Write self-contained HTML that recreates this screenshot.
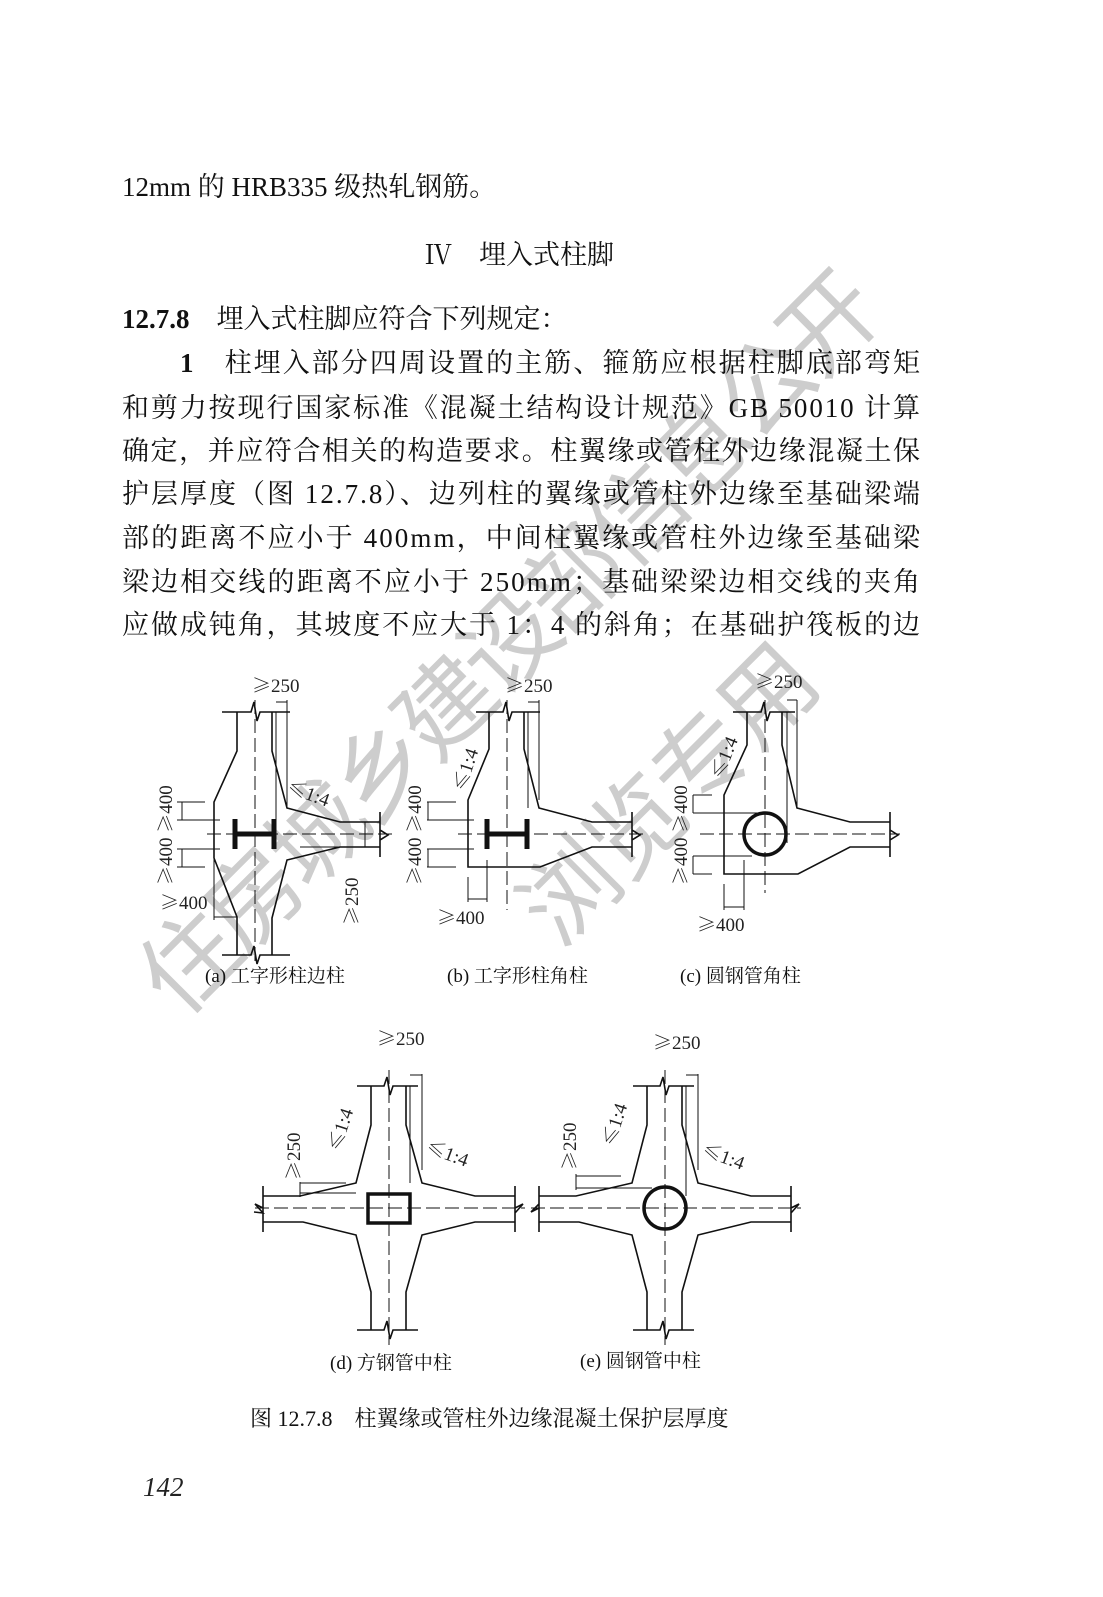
<!DOCTYPE html>
<html><head><meta charset="utf-8"><style>
html,body{margin:0;padding:0;background:#fff}
svg{display:block}
.b{font-family:"Liberation Serif","Noto Serif CJK SC",serif;font-size:27px;fill:#111}
.d{font-family:"Liberation Serif",serif;font-size:19px;fill:#222}
.g{font-family:"Noto Serif CJK SC",serif}
.c{font-family:"Liberation Serif","Noto Serif CJK SC",serif;font-size:19px;fill:#111}
.wm{font-family:"Noto Sans CJK SC",sans-serif;font-size:96px;fill:#cdcdcd;stroke:none}
</style></head><body>
<svg width="1103" height="1597" viewBox="0 0 1103 1597" xmlns="http://www.w3.org/2000/svg">
<rect width="1103" height="1597" fill="#fff"/>
<!-- watermark -->
<text class="wm" transform="translate(180,1020) rotate(-45)" textLength="1000" lengthAdjust="spacing">住房城乡建设部信息公开</text>
<text class="wm" transform="translate(560,950) rotate(-45)" textLength="375" lengthAdjust="spacing">浏览专用</text>
<!-- body text -->
<text class="b" x="122" y="196">12mm 的 HRB335 级热轧钢筋。</text>
<text class="b" x="425" y="264">Ⅳ　埋入式柱脚</text>
<text class="b" x="122" y="328"><tspan font-weight="bold">12.7.8</tspan>　埋入式柱脚应符合下列规定：</text>
<text class="b" x="180" y="372" textLength="740" lengthAdjust="spacing"><tspan font-weight="bold">1</tspan>　柱埋入部分四周设置的主筋、箍筋应根据柱脚底部弯矩</text>
<text class="b" x="122" y="417" textLength="798" lengthAdjust="spacing">和剪力按现行国家标准《混凝土结构设计规范》GB 50010 计算</text>
<text class="b" x="122" y="460" textLength="798" lengthAdjust="spacing">确定，并应符合相关的构造要求。柱翼缘或管柱外边缘混凝土保</text>
<text class="b" x="122" y="503" textLength="798" lengthAdjust="spacing">护层厚度（图 12.7.8）、边列柱的翼缘或管柱外边缘至基础梁端</text>
<text class="b" x="122" y="547" textLength="798" lengthAdjust="spacing">部的距离不应小于 400mm，中间柱翼缘或管柱外边缘至基础梁</text>
<text class="b" x="122" y="591" textLength="798" lengthAdjust="spacing">梁边相交线的距离不应小于 250mm；基础梁梁边相交线的夹角</text>
<text class="b" x="122" y="634" textLength="798" lengthAdjust="spacing">应做成钝角，其坡度不应大于 1：4 的斜角；在基础护筏板的边</text>

<g stroke="#111" stroke-width="1.6" fill="none">
<!-- (a) -->
<path d="M222,712 H251 L254,702 L257,721 L260,712 H290"/>
<path d="M222,955 H251 L254,946 L257,964 L260,955 H290"/>
<path d="M237,712 V751 L214,802 V858 L237,917 V955"/>
<path d="M272,712 V751 L287,808 L340,822 H380"/>
<path d="M380,847 H340 L287,860 L272,918 V955"/>
<path d="M380,812 V857 M380,830 L388,835 L380,840"/>
<path d="M276,712 V830 M287,700 V808" stroke-width="1"/>
<path d="M255,700 V965" stroke-dasharray="14 5" stroke-width="1"/>
<path d="M207,834 H395" stroke-dasharray="14 5" stroke-width="1"/>
<path d="M235,819 V849 M274,819 V849 M235,834 H274" stroke-width="5"/>
<path d="M177,802 H205 M177,820 H220 M177,849 H220 M177,867 H205 M182,802 V820 M182,849 V867 M276,702 H287 M214,917 H237 M214,858 V920 M365,822 V847 M300,847 H368" stroke-width="1"/>
<!-- (b) -->
<path d="M476,712 H503 L506,702 L509,721 L512,712 H540"/>
<path d="M489,712 V749 L468,800 V867 H540 L592,847 H632"/>
<path d="M524,712 V749 L539,808 L592,822 H632"/>
<path d="M632,812 V857 M632,830 L640,835 L632,840"/>
<path d="M528,712 V808 M539,700 V800" stroke-width="1"/>
<path d="M507,700 V910" stroke-dasharray="14 5" stroke-width="1"/>
<path d="M458,834 H648" stroke-dasharray="14 5" stroke-width="1"/>
<path d="M487,819 V849 M527,819 V849 M487,834 H527" stroke-width="5"/>
<path d="M427,802 H456 M427,820 H474 M427,849 H474 M427,867 H456 M428,802 V820 M428,849 V867 M468,877 V902 M487,860 V902 M468,899 H487 M528,702 H539" stroke-width="1"/>
<!-- (c) -->
<path d="M733,712 H761 L764,702 L767,721 L770,712 H795"/>
<path d="M747,712 V745 L724,795 V874 H798 L850,847 H890"/>
<path d="M782,712 V745 L797,808 L850,822 H890"/>
<path d="M890,812 V857 M890,830 L898,835 L890,840"/>
<path d="M787,712 V843 M797,700 V808" stroke-width="1"/>
<path d="M765,700 V893" stroke-dasharray="14 5" stroke-width="1"/>
<path d="M700,834 H900" stroke-dasharray="14 5" stroke-width="1"/>
<circle cx="765" cy="834" r="21" stroke-width="3.5"/>
<path d="M693,795 H712 M693,813 H760 M693,856 H752 M693,874 H712 M693,795 V813 M693,856 V874 M724,884 V910 M744,860 V910 M724,907 H744 M787,700 H797" stroke-width="1"/>
<!-- (d) -->
<path d="M357,1086 H384 L387,1077 L390,1095 L393,1086 H418"/>
<path d="M357,1330 H384 L387,1321 L390,1339 L393,1330 H418"/>
<path d="M371,1086 V1125 L356,1183 L300,1196 H263"/>
<path d="M406,1086 V1125 L422,1183 L475,1196 H515"/>
<path d="M263,1222 H303 L356,1235 L371,1292 V1330"/>
<path d="M515,1222 H475 L422,1235 L406,1292 V1330"/>
<path d="M263,1186 V1232 M515,1186 V1232 M263,1208 L255,1204 L263,1213 L254,1212 M515,1208 L523,1204 L515,1213"/>
<path d="M410,1086 V1183 M422,1074 V1170 M410,1075 H422 M300,1183 H346 M300,1193 H356 M300,1182 V1197" stroke-width="1"/>
<path d="M389,1070 V1345" stroke-dasharray="14 5" stroke-width="1"/>
<path d="M255,1208 H525" stroke-dasharray="14 5" stroke-width="1"/>
<rect x="368" y="1194" width="42" height="29" stroke-width="3.5"/>
<!-- (e) -->
<path d="M633,1086 H660 L663,1077 L666,1095 L669,1086 H694"/>
<path d="M633,1330 H660 L663,1321 L666,1339 L669,1330 H694"/>
<path d="M647,1086 V1125 L632,1183 L576,1196 H539"/>
<path d="M682,1086 V1125 L698,1183 L751,1196 H791"/>
<path d="M539,1222 H579 L632,1235 L647,1292 V1330"/>
<path d="M791,1222 H751 L698,1235 L682,1292 V1330"/>
<path d="M539,1186 V1232 M791,1186 V1232 M539,1208 L531,1212 L539,1204 M791,1208 L799,1204 L791,1213"/>
<path d="M686,1086 V1196 M698,1074 V1170 M686,1075 H698 M576,1176 H621 M576,1188 H652 M576,1174 V1190" stroke-width="1"/>
<path d="M665,1070 V1345" stroke-dasharray="14 5" stroke-width="1"/>
<path d="M531,1208 H801" stroke-dasharray="14 5" stroke-width="1"/>
<circle cx="665" cy="1208" r="21" stroke-width="3.5"/>
</g>

<!-- dim texts -->
<g class="d">
<text x="252" y="692"><tspan class="g">≥</tspan>250</text>
<text x="505" y="692"><tspan class="g">≥</tspan>250</text>
<text x="755" y="688"><tspan class="g">≥</tspan>250</text>
<text x="160" y="909"><tspan class="g">≥</tspan>400</text>
<text x="437" y="924"><tspan class="g">≥</tspan>400</text>
<text x="697" y="931"><tspan class="g">≥</tspan>400</text>
<text transform="translate(172,885) rotate(-90)"><tspan class="g">≥</tspan>400 <tspan class="g">≥</tspan>400</text>
<text transform="translate(421,885) rotate(-90)"><tspan class="g">≥</tspan>400 <tspan class="g">≥</tspan>400</text>
<text transform="translate(687,885) rotate(-90)"><tspan class="g">≥</tspan>400 <tspan class="g">≥</tspan>400</text>
<text transform="translate(358,925) rotate(-90)"><tspan class="g">≥</tspan>250</text>
<text transform="translate(300,1180) rotate(-90)"><tspan class="g">≥</tspan>250</text>
<text transform="translate(576,1170) rotate(-90)"><tspan class="g">≥</tspan>250</text>
<text transform="translate(286,792) rotate(20)"><tspan class="g">≤</tspan>1:4</text>
<text transform="translate(465,792) rotate(-72)"><tspan class="g">≤</tspan>1:4</text>
<text transform="translate(722,780) rotate(-68)"><tspan class="g">≤</tspan>1:4</text>
<text x="377" y="1045"><tspan class="g">≥</tspan>250</text>
<text x="653" y="1049"><tspan class="g">≥</tspan>250</text>
<text transform="translate(340,1152) rotate(-72)"><tspan class="g">≤</tspan>1:4</text>
<text transform="translate(614,1147) rotate(-72)"><tspan class="g">≤</tspan>1:4</text>
<text transform="translate(425,1152) rotate(20)"><tspan class="g">≤</tspan>1:4</text>
<text transform="translate(701,1155) rotate(20)"><tspan class="g">≤</tspan>1:4</text>
</g>
<g class="c">
<text x="205" y="982">(a) 工字形柱边柱</text>
<text x="447" y="982">(b) 工字形柱角柱</text>
<text x="680" y="982">(c) 圆钢管角柱</text>
<text x="330" y="1369">(d) 方钢管中柱</text>
<text x="580" y="1367">(e) 圆钢管中柱</text>
<text x="250" y="1426" style="font-size:22px">图 12.7.8　柱翼缘或管柱外边缘混凝土保护层厚度</text>
</g>
<text x="143" y="1496" style="font-family:'Liberation Serif',serif;font-style:italic;font-size:27px;fill:#222">142</text>
</svg>
</body></html>
